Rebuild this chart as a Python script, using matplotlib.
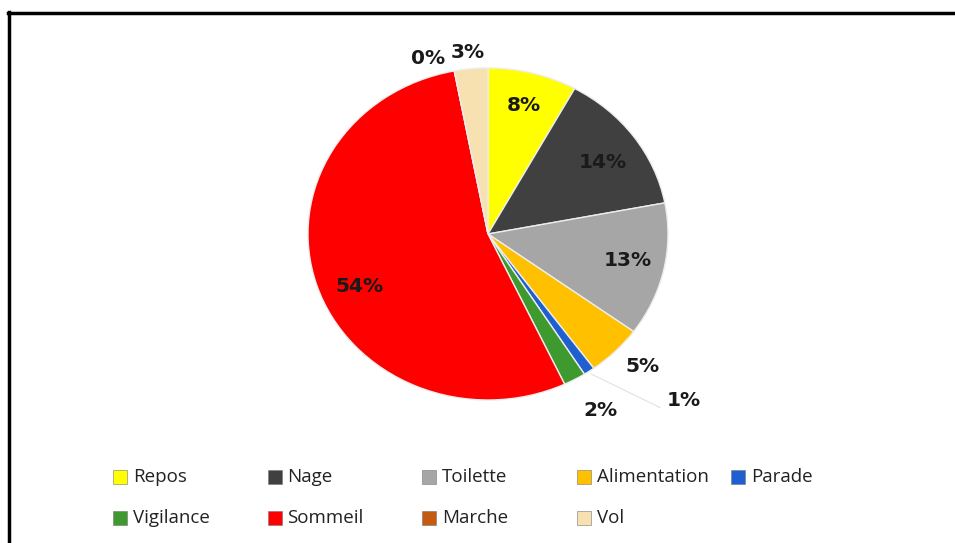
import numpy as np
import matplotlib
matplotlib.use("Agg")
import matplotlib.pyplot as plt
from matplotlib.patches import Rectangle
from matplotlib.lines import Line2D

# activity share (percent)
categories = ["Repos", "Nage", "Toilette", "Alimentation", "Parade",
              "Vigilance", "Sommeil", "Marche", "Vol"]
values = [8, 14, 13, 5, 1, 2, 54, 0, 3]
colors = ["#FFFF00", "#404040", "#A6A6A6", "#FFC000", "#1F5FCF",
          "#3E9A2E", "#FF0000", "#C55A11", "#F7E1B0"]

# label placement: radius (fraction of pie radius) and angle nudge (deg)
label_r = [0.80, 0.77, 0.79, 1.17, 1.48, 1.23, 0.78, 1.11, 1.10]
label_dang = [0, -2, 1, 2, 13, 1.6, 6, 6.6, 0.6]

W, H = 955, 543
fig = plt.figure(figsize=(W / 100, H / 100), dpi=100)

# pie is drawn slightly wider than tall
ax = fig.add_axes([308 / W, 143 / H, 360 / W, 332 / H])
wedges, _ = ax.pie(values, colors=colors, startangle=90, counterclock=False,
                   wedgeprops=dict(edgecolor="#EDEDED", linewidth=1.0))
ax.set_aspect("auto")
ax.set_xlim(-1, 1)
ax.set_ylim(-1, 1)
ax.axis("off")

for i, (w, v, rf, da) in enumerate(zip(wedges, values, label_r, label_dang)):
    ang = np.deg2rad((w.theta1 + w.theta2) / 2 + da)
    tx, ty = rf * np.cos(ang), rf * np.sin(ang)
    ax.text(tx, ty, f"{v}%", ha="center", va="center", fontsize=14.5,
            fontweight="bold", family="DejaVu Sans", color="#1a1a1a",
            clip_on=False)
    if rf > 1.4:
        # faint leader for the label pushed far from its slice
        mid = np.deg2rad((w.theta1 + w.theta2) / 2)
        ax.plot([1.02 * np.cos(mid), tx - 0.13], [1.02 * np.sin(mid), ty - 0.04],
                color="#E2E2E2", lw=0.8, clip_on=False)

# legend, two rows of five fixed-width columns
col_w = 154.5
for i, (name, c) in enumerate(zip(categories, colors)):
    row, col = divmod(i, 5)
    x0 = 113 + col * col_w
    yc = 477 + row * 41
    fig.patches.append(Rectangle((x0 / W, 1 - (yc + 7) / H), 14 / W, 14 / H,
                                 transform=fig.transFigure, facecolor=c,
                                 edgecolor="#777777", linewidth=0.4))
    fig.text((x0 + 20) / W, 1 - yc / H, name, ha="left", va="center",
             fontsize=13.5, family="Open Sans", color="#222222")

# frame lines along the top and left
fig.add_artist(Line2D([8 / W, 1], [1 - 13 / H, 1 - 13 / H],
                      transform=fig.transFigure, color="black", lw=2.5))
fig.add_artist(Line2D([9 / W, 9 / W], [1 - 12 / H, 0],
                      transform=fig.transFigure, color="black", lw=2.5))

fig.savefig("out.png", dpi=100)
